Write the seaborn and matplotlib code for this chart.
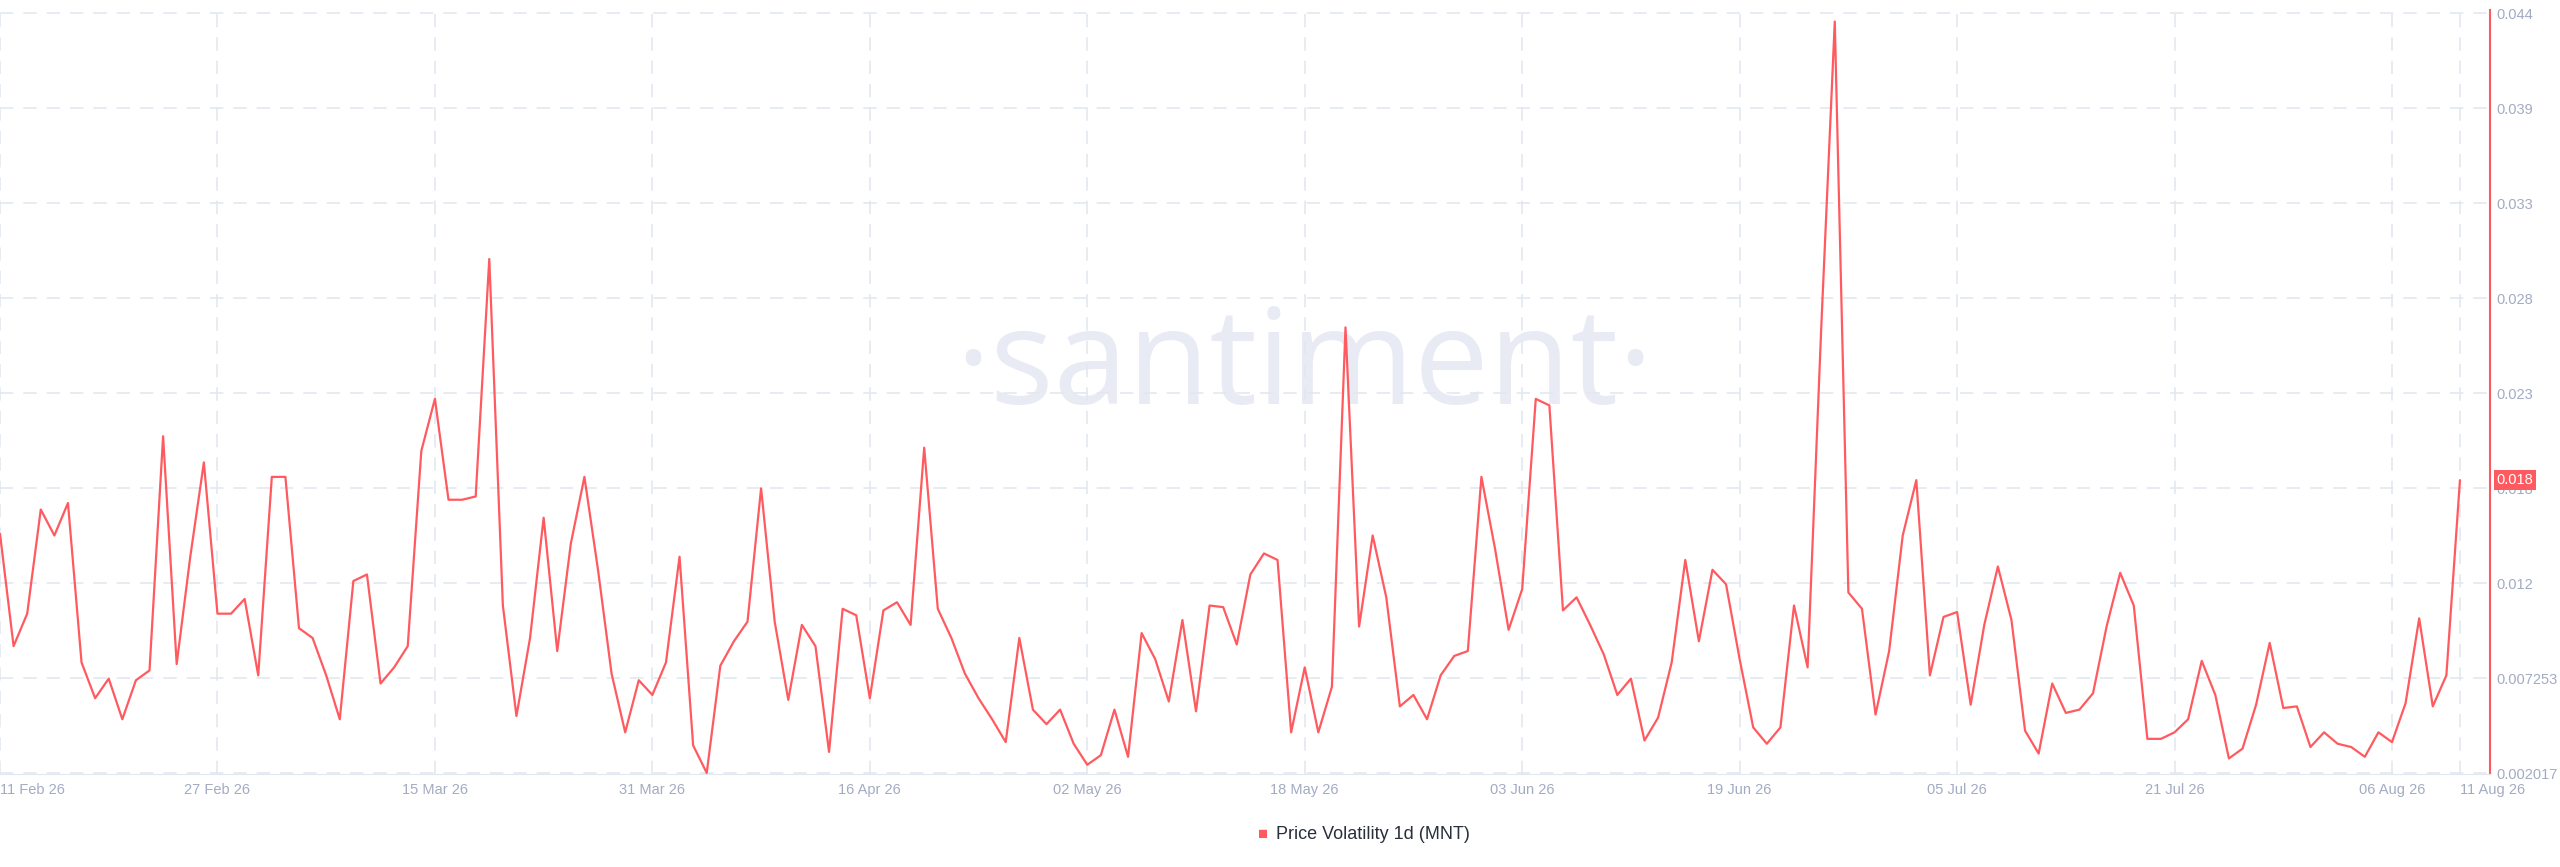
import pandas as pd
import seaborn as sns
import matplotlib.pyplot as plt

# daily price volatility (MNT), in units of 1e-3
vol_milli = [
    15.20, 9.01, 10.80, 16.54, 15.11, 16.90, 8.11, 6.14, 7.22, 4.98,
    7.13, 7.67, 20.58, 8.02, 13.94, 19.14, 10.80, 10.80, 11.61, 7.40,
    18.34, 18.34, 10.00, 9.46, 7.40, 4.98, 12.60, 12.96, 6.95, 7.84,
    9.01, 19.77, 22.64, 17.08, 17.08, 17.26, 30.35, 11.25, 5.16, 9.46,
    16.09, 8.74, 14.66, 18.34, 13.22, 7.49, 4.26, 7.13, 6.32, 8.11,
    13.94, 3.54, 2.02, 7.93, 9.28, 10.36, 17.71, 10.36, 6.05, 10.18,
    9.01, 3.18, 11.07, 10.71, 6.14, 10.98, 11.43, 10.18, 19.95, 11.07,
    9.46, 7.49, 6.14, 4.98, 3.72, 9.46, 5.51, 4.71, 5.51, 3.63,
    2.47, 3.00, 5.51, 2.91, 9.73, 8.29, 5.96, 10.45, 5.42, 11.25,
    11.16, 9.10, 12.96, 14.12, 13.76, 4.26, 7.84, 4.26, 6.77, 26.58,
    10.09, 15.11, 11.70, 5.69, 6.32, 4.98, 7.40, 8.47, 8.74, 18.34,
    14.39, 9.91, 12.15, 22.64, 22.28, 10.98, 11.70, 10.18, 8.56, 6.32,
    7.22, 3.81, 5.07, 8.11, 13.76, 9.28, 13.22, 12.42, 8.29, 4.53,
    3.63, 4.53, 11.25, 7.84, 26.49, 43.44, 11.97, 11.07, 5.24, 8.74,
    15.11, 18.16, 7.40, 10.62, 10.89, 5.78, 10.18, 13.40, 10.45, 4.35,
    3.09, 6.95, 5.33, 5.51, 6.41, 10.09, 13.05, 11.25, 3.90, 3.90,
    4.26, 4.98, 8.20, 6.32, 2.82, 3.36, 5.78, 9.19, 5.60, 5.69,
    3.45, 4.26, 3.63, 3.45, 2.91, 4.26, 3.72, 5.87, 10.54, 5.69,
    7.40, 18.16,
]
y_ticks = [0.002017, 0.007253, 0.012489, 0.017725, 0.022961, 0.028197,
           0.033433, 0.038669, 0.043905]
y_labels = ['0.002017', '0.007253', '0.012', '0.018', '0.023', '0.028',
            '0.033', '0.039', '0.044']
x_ticks = ['2026-02-11', '2026-02-27', '2026-03-15', '2026-03-31', '2026-04-16',
           '2026-05-02', '2026-05-18', '2026-06-03', '2026-06-19', '2026-07-05',
           '2026-07-21', '2026-08-06', '2026-08-11']
series_name = 'Price Volatility 1d (MNT)'

df = pd.DataFrame({'date': pd.date_range('2026-02-11', periods=len(vol_milli), freq='D'),
                   'vol': [v / 1000 for v in vol_milli]})

red = '#ff5a5f'
grid_c = '#e3e7f0'
tick_c = '#a3abc3'

sns.set_style('white')
plt.rcParams['font.family'] = ['Liberation Sans', 'DejaVu Sans']

fig = plt.figure(figsize=(25.6, 8.67), dpi=100)
ax = fig.add_axes([0.0, 0.107, 0.9726, 0.882])

# watermark
ax.text(0.524, 0.53, '·santiment·', transform=ax.transAxes, ha='center', va='center',
        fontsize=96, color='#e8ebf3', zorder=0, family=['Open Sans', 'DejaVu Sans'])

sns.lineplot(data=df, x='date', y='vol', ax=ax, color=red, linewidth=1.6, zorder=3)

ax.set_xlim(df['date'].iloc[0], df['date'].iloc[-1] + pd.Timedelta(days=2.2))
ax.set_ylim(0.00195, 0.0441)

xt = pd.to_datetime(x_ticks)
ax.set_xticks(xt)
ax.set_xticklabels([d.strftime('%d %b %y') for d in xt])
ax.set_yticks(y_ticks)
ax.set_yticklabels(y_labels)
ax.yaxis.tick_right()
ax.tick_params(axis='both', length=0, labelsize=10.5, colors=tick_c, pad=6)
ax.tick_params(axis='y', pad=5)
labs = ax.get_xticklabels()
labs[0].set_ha('left')
labs[-1].set_ha('left')
ax.set_xlabel('')
ax.set_ylabel('')
ax.grid(True, color=grid_c, linestyle=(0, (8, 6)), linewidth=1.2)

for s in ['top', 'left']:
    ax.spines[s].set_visible(False)
ax.spines['right'].set_color(red)
ax.spines['right'].set_linewidth(1.5)
ax.spines['bottom'].set_color('#e3e7f0')

# current value badge
last = df['vol'].iloc[-1]
ax.annotate('0.018', xy=(1.0, last), xycoords=('axes fraction', 'data'),
            xytext=(5, 0), textcoords='offset points', va='center', ha='left',
            fontsize=10.5, color='white',
            bbox=dict(boxstyle='square,pad=0.2', fc=red, ec='none'))

# legend
fig.text(0.4985, 0.037, series_name, ha='left', va='center', fontsize=13, color='#2a2f3c')
fig.text(0.4935, 0.037, '■', ha='center', va='center', fontsize=12, color=red)

fig.savefig('out.png', dpi=100)
